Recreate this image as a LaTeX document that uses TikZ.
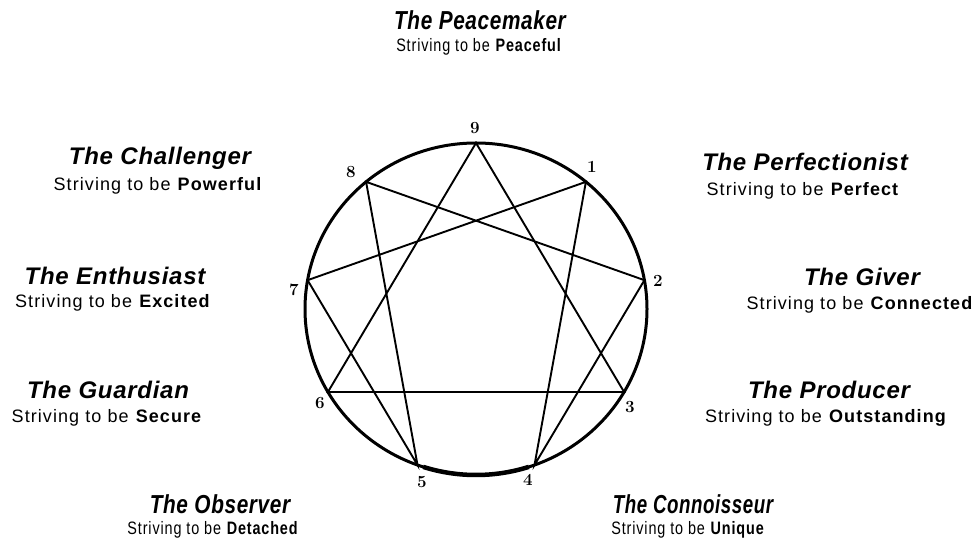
\documentclass[tikz,border=0pt]{standalone}
\usepackage{fontspec}
\usepackage{graphicx}
\newfontfamily\sansf{Liberation Sans}
\newfontfamily\ttlf[LetterSpace=3]{Liberation Sans}
\newfontfamily\subf[LetterSpace=6]{Liberation Sans}
\usetikzlibrary{calc}
\tikzset{
  ttl/.style={font=\ttlf\bfseries\itshape\fontsize{24}{24}\selectfont, inner sep=0pt, anchor=base},
  sub/.style={font=\subf\fontsize{18}{18}\selectfont, inner sep=0pt, anchor=base},
  num/.style={font=\fontsize{17}{17}\selectfont\bfseries, inner sep=0pt},
  ring/.style={line width=3pt},
  chord/.style={line width=1.9pt, line join=miter, line cap=round}
}
\newcommand{\cnd}[1]{\scalebox{0.8}[1]{#1}}
\newcommand{\cndd}[1]{\scalebox{0.72}[1]{#1}}
\begin{document}
\begin{tikzpicture}[x=1pt,y=1pt]
\useasboundingbox (0,0) rectangle (977,543);
\coordinate (c) at (476,234);
\draw[ring] (c) ellipse [x radius=171, y radius=166];
\foreach \k in {1,...,9}{
  \pgfmathsetmacro\a{90-40*\k}
  \coordinate (p\k) at ($(c)+({171*cos(\a)},{166*sin(\a)})$);
}
\draw[line width=4.5pt] ($(c)+({171*cos(-108)},{166*sin(-108)})$) arc[start angle=-108, end angle=-72, x radius=171, y radius=166];
\draw[chord] (p9) -- (p3) -- (p6) -- cycle;
\draw[chord] (p1) -- (p4) -- (p2) -- (p8) -- (p5) -- (p7) -- cycle;
% number labels
\node[num] (n9) at (475,415) {9};
\node[num] (n8) at (351,371) {8};
\node[num] (n1) at (592,376) {1};
\node[num] (n7) at (294,253) {7};
\node[num] (n2) at (658,262) {2};
\node[num] (n6) at (320,140) {6};
\node[num] (n3) at (630,136) {3};
\node[num] (n5) at (422,61) {5};
\node[num] (n4) at (528,63) {4};
% titles
\node[ttl] (t9) at (480,513) {\cnd{\fontsize{26}{26}\selectfont The Peacemaker}};
\node[sub] (s9) at (479,491) {\cnd{Striving to be \textbf{Peaceful}}};
\node[ttl] (t8) at (160,378) {The Challenger};
\node[sub] (s8) at (158,352) {Striving to be \textbf{Powerful}};
\node[ttl] (t1) at (805,372) {The Perfectionist};
\node[sub] (s1) at (803,347) {Striving to be \textbf{Perfect}};
\node[ttl] (t7) at (115,258) {The Enthusiast};
\node[sub] (s7) at (113,235) {Striving to be \textbf{Excited}};
\node[ttl] (t2) at (862,257) {The Giver};
\node[sub] (s2) at (860,233) {Striving to be \textbf{Connected}};
\node[ttl] (t6) at (108,144) {The Guardian};
\node[sub] (s6) at (107,120) {Striving to be \textbf{Secure}};
\node[ttl] (t3) at (829,144) {The Producer};
\node[sub] (s3) at (826,120) {Striving to be \textbf{Outstanding}};
\node[ttl] (t5) at (220,29) {\cnd{\fontsize{26}{26}\selectfont The Observer}};
\node[sub] (s5) at (213,8) {\cnd{Striving to be \textbf{Detached}}};
\node[ttl] (t4) at (693,29) {\cndd{\fontsize{26}{26}\selectfont The Connoisseur}};
\node[sub] (s4) at (688,8) {\cnd{Striving to be \textbf{Unique}}};
\end{tikzpicture}
\end{document}
